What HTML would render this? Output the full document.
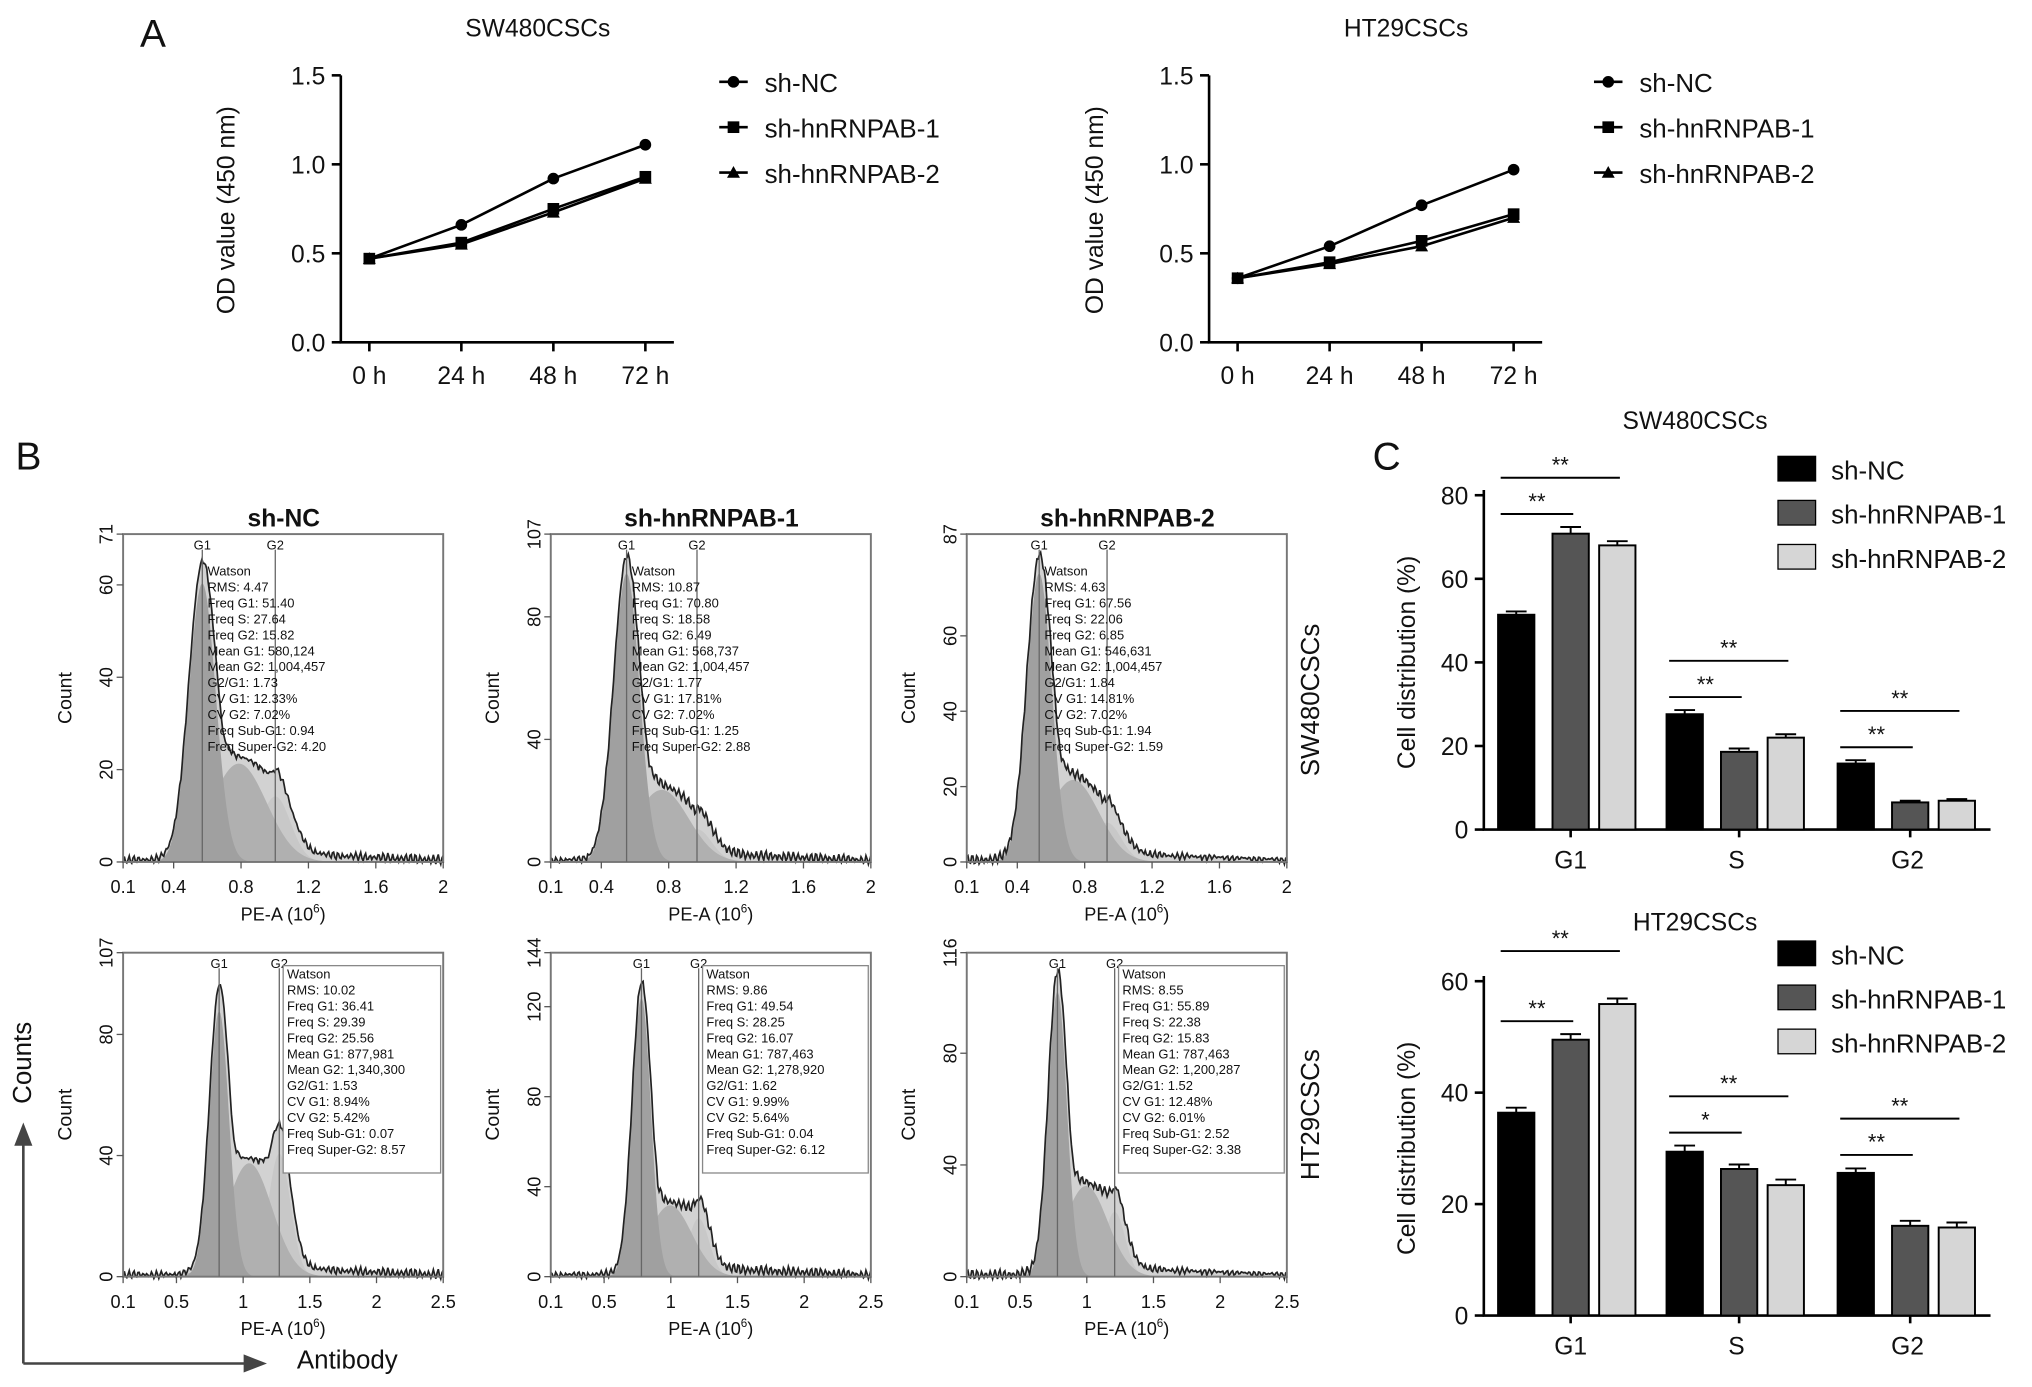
<!DOCTYPE html>
<html><head><meta charset="utf-8"><style>
html,body{margin:0;padding:0;background:#fff}
svg{display:block}
text{font-family:"Liberation Sans",Arial,sans-serif;fill:#111}
</style></head><body>
<svg id="fig" width="2032" height="1387" viewBox="0 0 1568 1070" xmlns="http://www.w3.org/2000/svg"></svg>
<script>
// ---------- Data ----------
const timeLabels = ["0 h","24 h","48 h","72 h"];
const odTicks = [0.0,0.5,1.0,1.5];
const seriesNames = ["sh-NC","sh-hnRNPAB-1","sh-hnRNPAB-2"];
const swNC = [0.47,0.66,0.92,1.11];
const swKD1 = [0.47,0.56,0.75,0.93];
const swKD2 = [0.47,0.55,0.73,0.92];
const htNC = [0.36,0.54,0.77,0.97];
const htKD1 = [0.36,0.45,0.57,0.72];
const htKD2 = [0.36,0.44,0.54,0.70];
const phases = ["G1","S","G2"];
const swBarNC = [51.4,27.6,15.8];
const swBarKD1 = [70.8,18.6,6.5];
const swBarKD2 = [68.0,22.0,6.9];
const swErr = [[0.8,1.0,0.8],[1.6,0.8,0.4],[1.0,0.8,0.4]];
const htBarNC = [36.4,29.4,25.6];
const htBarKD1 = [49.5,26.3,16.1];
const htBarKD2 = [55.9,23.4,15.8];
const htErr = [[0.9,1.1,0.8],[1.0,0.8,0.9],[1.0,1.0,0.9]];
const swBarTicks = [0,20,40,60,80];
const htBarTicks = [0,20,40,60];
const statsSW = [
 ["Watson","RMS: 4.47","Freq G1: 51.40","Freq S: 27.64","Freq G2: 15.82","Mean G1: 580,124","Mean G2: 1,004,457","G2/G1: 1.73","CV G1: 12.33%","CV G2: 7.02%","Freq Sub-G1: 0.94","Freq Super-G2: 4.20"],
 ["Watson","RMS: 10.87","Freq G1: 70.80","Freq S: 18.58","Freq G2: 6.49","Mean G1: 568,737","Mean G2: 1,004,457","G2/G1: 1.77","CV G1: 17.81%","CV G2: 7.02%","Freq Sub-G1: 1.25","Freq Super-G2: 2.88"],
 ["Watson","RMS: 4.63","Freq G1: 67.56","Freq S: 22.06","Freq G2: 6.85","Mean G1: 546,631","Mean G2: 1,004,457","G2/G1: 1.84","CV G1: 14.81%","CV G2: 7.02%","Freq Sub-G1: 1.94","Freq Super-G2: 1.59"]];
const statsHT = [
 ["Watson","RMS: 10.02","Freq G1: 36.41","Freq S: 29.39","Freq G2: 25.56","Mean G1: 877,981","Mean G2: 1,340,300","G2/G1: 1.53","CV G1: 8.94%","CV G2: 5.42%","Freq Sub-G1: 0.07","Freq Super-G2: 8.57"],
 ["Watson","RMS: 9.86","Freq G1: 49.54","Freq S: 28.25","Freq G2: 16.07","Mean G1: 787,463","Mean G2: 1,278,920","G2/G1: 1.62","CV G1: 9.99%","CV G2: 5.64%","Freq Sub-G1: 0.04","Freq Super-G2: 6.12"],
 ["Watson","RMS: 8.55","Freq G1: 55.89","Freq S: 22.38","Freq G2: 15.83","Mean G1: 787,463","Mean G2: 1,200,287","G2/G1: 1.52","CV G1: 12.48%","CV G2: 6.01%","Freq Sub-G1: 2.52","Freq Super-G2: 3.38"]];
// histogram peak params: [G1 pos (x-units), G1 height frac, S height, G2 height]
const histSW = [[0.57,0.85,0.3,0.2],[0.55,0.88,0.22,0.1],[0.53,0.88,0.25,0.12]];
const histHT = [[0.82,0.82,0.35,0.38],[0.78,0.86,0.22,0.18],[0.78,0.88,0.28,0.2]];
const yMaxSW = [71,107,87], yMaxHT = [107,144,116];

const S = document.getElementById('fig'), NS = "http://www.w3.org/2000/svg";
function el(tag, attrs, parent, txt){const e=document.createElementNS(NS,tag);for(const k in attrs)e.setAttribute(k,attrs[k]);if(txt!==undefined)e.textContent=txt;(parent||S).appendChild(e);return e;}
function T(x,y,s,size,anchor,name,extra){const e=el('text',Object.assign({x:x,y:y,'font-size':size,'text-anchor':anchor||'middle'},extra||{}),S,s);

return e;}

// panel letters
T(118,36,"A",30,"middle","panel-label-a");
T(22,362,"B",30,"middle","panel-label-b");
T(1070,362,"C",30,"middle","panel-label-c");

// ---------- Panel A ----------
function lineChart(ax, title, data, legX){
  const y0=264, y1=58, xs=[ax+22,ax+93,ax+164,ax+235];
  const Y=v=>y0-(v/1.5)*(y0-y1);
  T(ax+152,28,title,19,"middle","line-chart-title");
  let a=el('path',{d:`M${ax} ${y1}V${y0}H${ax+257}`,stroke:'#000','stroke-width':2,fill:'none'});
  
  
  odTicks.forEach(v=>{const t=el('line',{x1:ax-7,x2:ax,y1:Y(v),y2:Y(v),stroke:'#000','stroke-width':2});
    
    
    T(ax-12,Y(v)+7,v.toFixed(1),19,"end","y-tick-label");});
  timeLabels.forEach((l,i)=>{const t=el('line',{x1:xs[i],x2:xs[i],y1:y0,y2:y0+7,stroke:'#000','stroke-width':2});
    
    
    T(xs[i],y0+32,l,19,"middle","x-tick-label");});
  T(ax-82,162,"OD value (450 nm)",19,"middle","y-axis-title",{transform:`rotate(-90 ${ax-82} 162)`});
  data.forEach((d,si)=>{
    const p=el('polyline',{points:d.map((v,i)=>xs[i]+','+Y(v)).join(' '),stroke:'#000','stroke-width':2,fill:'none'});
    
    
    d.forEach((v,i)=>{marker(xs[i],Y(v),si);});
    const ly=63+si*35;
    const ll=el('line',{x1:legX,x2:legX+22,y1:ly,y2:ly,stroke:'#000','stroke-width':2});
    
    
    marker(legX+11,ly,si);
    T(legX+35,ly+8,seriesNames[si],20,"start","legend-entry");
  });
}
function marker(x,y,si){let m;
  if(si==0)m=el('circle',{cx:x,cy:y,r:4.5,fill:'#000'});
  else if(si==1)m=el('rect',{x:x-4.5,y:y-4.5,width:9,height:9,fill:'#000'});
  else m=el('path',{d:`M${x} ${y-5}L${x+5} ${y+4}L${x-5} ${y+4}Z`,fill:'#000'});
  
  }
lineChart(263,"SW480CSCs",[swNC,swKD1,swKD2],555);
lineChart(933,"HT29CSCs",[htNC,htKD1,htKD2],1230);

// ---------- Panel C ----------
function barChart(title,ty,y0,y1,ymax,ticks,vals,errs,sig,legY){
  const ax=1145, Y=v=>y0-(v/ymax)*(y0-y1);
  const centers=[1212,1342,1474], offs=[-42,0,36], fills=['#000','#555','#d6d6d6'];
  T(1308,ty,title,19,"middle","bar-chart-title");
  const a=el('path',{d:`M${ax} ${y1-4}V${y0}H1536`,stroke:'#000','stroke-width':2,fill:'none'});
  
  
  ticks.forEach(v=>{const t=el('line',{x1:ax-7,x2:ax,y1:Y(v),y2:Y(v),stroke:'#000','stroke-width':2});
    
    
    T(ax-12,Y(v)+7,String(v),19,"end","y-tick-label");});
  T(1092,(y0+y1)/2,"Cell distribution (%)",19,"middle","y-axis-title",{transform:`rotate(-90 1092 ${(y0+y1)/2})`});
  phases.forEach((ph,i)=>{T(centers[i]+(i==0?0:-2),y0+30,ph,19,"middle","x-tick-label");
    const tk=el('line',{x1:centers[i],x2:centers[i],y1:y0,y2:y0+6,stroke:'#000','stroke-width':2});
    
    
    vals.forEach((sv,si)=>{const cx=centers[i]+offs[si], v=sv[i], e=errs[si][i];
      const b=el('rect',{x:cx-14,y:Y(v),width:28,height:y0-Y(v),fill:fills[si],stroke:'#000','stroke-width':1.5});
      
      
      const er=el('path',{d:`M${cx} ${Y(v)}V${Y(v+e)}M${cx-8} ${Y(v+e)}H${cx+8}`,stroke:'#000','stroke-width':1.5});
      
      });
    const top1=Math.max(vals[0][i],vals[1][i])+Math.max(errs[0][i],errs[1][i]);
    const top2=Math.max(vals[0][i],vals[1][i],vals[2][i])+3;
    const l1=Y(top1)-10, l2=Math.min(l1,Y(top2))-28;
    const x0=centers[i]+offs[0]-12;
    [[l1,centers[i]+offs[1]+2,sig[i][0]],[l2,centers[i]+offs[2]+2,sig[i][1]]].forEach(s=>{
      const sl=el('line',{x1:x0,x2:s[1],y1:s[0],y2:s[0],stroke:'#000','stroke-width':1.5});
      
      
      T((x0+s[1])/2,s[0]-4,s[2],17,"middle","significance-marker");});
  });
  seriesNames.forEach((n,si)=>{const r=el('rect',{x:1372,y:legY+si*34-10,width:29,height:19,fill:fills[si],stroke:'#000','stroke-width':1});
    
    
    T(1413,legY+si*34+8,n,20,"start","legend-entry");});
}
barChart("SW480CSCs",331,640,382,80,swBarTicks,[swBarNC,swBarKD1,swBarKD2],swErr,[["**","**"],["**","**"],["**","**"]],362);
barChart("HT29CSCs",718,1015,757,60,htBarTicks,[htBarNC,htBarKD1,htBarKD2],htErr,[["**","**"],["*","**"],["**","**"]],736);

// ---------- Panel B histograms ----------
const boxX=[95,425,746], colTitles=["sh-NC","sh-hnRNPAB-1","sh-hnRNPAB-2"];
colTitles.forEach((t,i)=>T(boxX[i]+124,406,t,19,"middle","column-title",{'font-weight':'bold','fill':'#222'}));
function gauss(x,m,s){return Math.exp(-0.5*((x-m)/s)**2);}
function hist(bx,by,bw,bh,row,ci,p,ymax,stats){
  const xmin=0.1, xmax=row==0?2:2.5, X=v=>bx+(v-xmin)/(xmax-xmin)*bw;
  const base=by+bh, H=f=>base-f*bh;
  const g1=p[0], g2=g1*(row==0?1.76:1.55), sd=g1*(row==0?0.14:0.09), sd2=g2*(row==0?0.09:0.065);
  const N=260, curve=[], a=[], b=[], c=[];
  for(let k=0;k<=N;k++){const x=xmin+(xmax-xmin)*k/N;
    const G1=p[1]*gauss(x,g1,sd), G2=p[3]*gauss(x,g2,sd2);
    const Sv=p[2]*gauss(x,(g1+g2)/2,(g2-g1)*0.38);
    const noise=0.015*Math.abs(Math.sin(k*2.3+ci)*Math.cos(k*0.7))+0.02*(x>g2?1:0)*Math.max(0,1-(x-g2)/(xmax-g2));
    a.push([X(x),H(G1)]);b.push([X(x),H(Sv)]);c.push([X(x),H(G2)]);
    curve.push([X(x),H(Math.max(G1,Sv,G2)+0.5*Math.min(Sv,G1+G2)+noise+0.008*Math.sin(k*1.7))]);}
  const area=(pts,fill,name)=>{const e=el('path',{d:'M'+X(xmin)+' '+base+'L'+pts.map(q=>q.join(' ')).join('L')+'L'+X(xmax)+' '+base+'Z',fill:fill});
    
    };
  area(curve,'#d2d2d2','histogram-total');
  area(c,'#c8c8c8','g2-peak');
  area(b,'#b0b0b0','s-phase');
  area(a,'#a0a0a0','g1-peak');
  const o=el('polyline',{points:curve.map(q=>q.join(',')).join(' '),fill:'none',stroke:'#222','stroke-width':1.3});
  
  
  const fr=el('rect',{x:bx,y:by,width:bw,height:bh,fill:'none',stroke:'#777','stroke-width':1.5});
  
  
  [[g1,"G1"],[g2,"G2"]].forEach(m=>{const ml=el('line',{x1:X(m[0]),x2:X(m[0]),y1:by+12,y2:base,stroke:'#666','stroke-width':1});
    
    
    T(X(m[0]),by+12,m[1],10,"middle","gate-label");});
  let sx=X(g1)+4, sy=by+32;
  if(row==1){sx=X(g2)+6; sy=by+20;
    const sb=el('rect',{x:sx-3,y:by+10,width:bx+bw-sx+1,height:160,fill:'#fff',stroke:'#888','stroke-width':1});
    
    }
  stats.forEach((s,k)=>T(sx,sy+k*12.3,s,10,"start","stats-line"));
  const xt=row==0?[0.1,0.4,0.8,1.2,1.6,2]:[0.1,0.5,1,1.5,2,2.5];
  xt.forEach(v=>{const t=el('line',{x1:X(v),x2:X(v),y1:base,y2:base+5,stroke:'#555'});
    
    
    T(X(v),base+24,String(v),14,"middle","x-tick-label");});
  const step=ymax>100?40:20, yt=[];for(let v=0;v<ymax-step*0.4;v+=step)yt.push(v);yt.push(ymax);
  yt.forEach(v=>{const yy=base-v/ymax*bh;const t=el('line',{x1:bx-5,x2:bx,y1:yy,y2:yy,stroke:'#555'});
    
    
    T(bx-8,yy,String(v),14,"middle","y-tick-label",{transform:`rotate(-90 ${bx-8} ${yy})`});});
  const xl=T(bx+bw/2,base+45,"PE-A (10",14,"middle","x-axis-title");
  const sup=el('tspan',{dy:-6,'font-size':9},xl,"6");
  el('tspan',{dy:6},xl,")");
  T(bx-40,by+bh/2,"Count",15,"middle","y-axis-title",{transform:`rotate(-90 ${bx-40} ${by+bh/2})`});
}
boxX.forEach((bx,i)=>hist(bx,412,247,253,0,i,histSW[i],yMaxSW[i],statsSW[i]));
boxX.forEach((bx,i)=>hist(bx,735,247,250,1,i,histHT[i],yMaxHT[i],statsHT[i]));
T(1011,547,"SW480CSCs",20,"middle","row-label-sw480",{transform:"rotate(-90 1011 540)"});
T(1011,867,"HT29CSCs",20,"middle","row-label-ht29",{transform:"rotate(-90 1011 860)"});
const ar=el('path',{d:'M18 1052V880M18 1052H192',stroke:'#444','stroke-width':2,fill:'none'});


const ah=el('path',{d:'M11 884L18 866L25 884ZM188 1045L206 1052L188 1059Z',fill:'#444'});


T(24,820,"Counts",20,"middle","counts-label",{transform:"rotate(-90 24 820)"});
T(268,1056,"Antibody",20,"middle","antibody-label");
</script>
</body></html>
